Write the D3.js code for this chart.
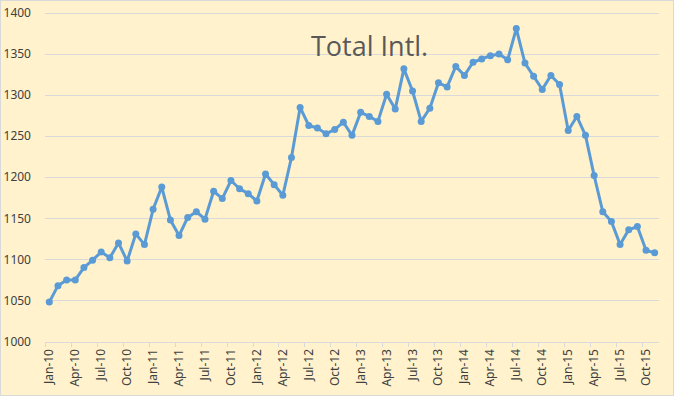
<!DOCTYPE html>
<html>
<head>
<meta charset="utf-8">
<script src="https://cdn.jsdelivr.net/npm/d3@7"></script>
<style>
  body { margin: 0; background: #fff; }
  svg { display: block; }
</style>
</head>
<body>
<div id="chart"></div>
<script>
// month labels, Jan-10 .. Nov-15
var years = ["10", "11", "12", "13", "14", "15"];
var monthNames = ["Jan", "Feb", "Mar", "Apr", "May", "Jun", "Jul", "Aug", "Sep", "Oct", "Nov", "Dec"];
var months = [];
years.forEach(function(yr) {
    monthNames.forEach(function(m) { months.push(m + "-" + yr); });
});
months = months.slice(0, 71);

// Total Intl. values
var totalIntl = [
    1048, 1068, 1075, 1075, 1090, 1099, 1109, 1102, 1120, 1098, 1131, 1118,
    1161, 1188, 1148, 1129, 1151, 1158, 1149, 1183, 1174, 1196, 1186, 1180,
    1171, 1204, 1191, 1178, 1224, 1285, 1263, 1260, 1253, 1258, 1267, 1251,
    1279, 1274, 1268, 1301, 1283, 1332, 1305, 1268, 1284, 1315, 1310, 1335,
    1324, 1340, 1344, 1348, 1350, 1343, 1381, 1339, 1323, 1307, 1324, 1313,
    1257, 1274, 1251, 1202, 1158, 1146, 1118, 1136, 1140, 1111, 1108
];

var yTicks = [1000, 1050, 1100, 1150, 1200, 1250, 1300, 1350, 1400];

var width = 674, height = 396;

var svg = d3.select("#chart")
    .append("svg")
    .attr("width", width)
    .attr("height", height);

// chart background + frame
svg.append("rect")
    .attr("x", 0.5)
    .attr("y", 0.5)
    .attr("width", width - 1)
    .attr("height", height - 1)
    .attr("fill", "#FFF2CC")
    .attr("stroke", "#D9D9D9");

var xScale = d3.scaleBand()
    .domain(months)
    .range([45, 659])
    .padding(0);

var yScale = d3.scaleLinear()
    .domain([1000, 1400])
    .range([341.5, 13]);

// gridlines
svg.append("g")
    .selectAll("line")
    .data(yTicks.slice(1))
    .enter()
    .append("line")
    .attr("x1", 45)
    .attr("x2", 659)
    .attr("y1", function(d) { return Math.round(yScale(d)) + 0.5; })
    .attr("y2", function(d) { return Math.round(yScale(d)) + 0.5; })
    .attr("stroke", "#D9D9D9")
    .attr("stroke-width", 1);

// y labels
svg.append("g")
    .selectAll("text")
    .data(yTicks)
    .enter()
    .append("text")
    .attr("x", 31)
    .attr("y", function(d) { return yScale(d); })
    .attr("dy", "0.35em")
    .attr("text-anchor", "end")
    .attr("font-family", "Noto Sans, sans-serif")
    .attr("font-size", "12px")
    .attr("fill", "#404040")
    .text(function(d) { return d; });

// x axis line
svg.append("line")
    .attr("x1", 45)
    .attr("x2", 659)
    .attr("y1", Math.round(yScale(1000)) + 0.5)
    .attr("y2", Math.round(yScale(1000)) + 0.5)
    .attr("stroke", "#D9D9D9");

var labelled = months.filter(function(d, i) { return i % 3 == 0; });

// tick marks between categories
svg.append("g")
    .selectAll("line")
    .data(labelled)
    .enter()
    .append("line")
    .attr("x1", function(d) { return Math.round(xScale(d)) + 0.5; })
    .attr("x2", function(d) { return Math.round(xScale(d)) + 0.5; })
    .attr("y1", 342)
    .attr("y2", 347)
    .attr("stroke", "#D9D9D9");

// x labels, rotated
svg.append("g")
    .selectAll("text")
    .data(labelled)
    .enter()
    .append("text")
    .attr("transform", function(d) {
        var cx = xScale(d) + xScale.bandwidth() / 2;
        return "translate(" + (cx + 4) + ",349) rotate(-90)";
    })
    .attr("text-anchor", "end")
    .attr("font-family", "Noto Sans, sans-serif")
    .attr("font-size", "12px")
    .attr("fill", "#404040")
    .text(function(d) { return d; });

// the line
var line = d3.line()
    .x(function(d, i) { return xScale(months[i]) + xScale.bandwidth() / 2; })
    .y(function(d) { return yScale(d); });

svg.append("path")
    .datum(totalIntl)
    .attr("d", line)
    .attr("fill", "none")
    .attr("stroke", "#5B9BD5")
    .attr("stroke-width", 3)
    .attr("stroke-linejoin", "round");

svg.append("g")
    .selectAll("circle")
    .data(totalIntl)
    .enter()
    .append("circle")
    .attr("cx", function(d, i) { return xScale(months[i]) + xScale.bandwidth() / 2; })
    .attr("cy", function(d) { return yScale(d); })
    .attr("r", 3.5)
    .attr("fill", "#5B9BD5");

// title inside the plot
svg.append("text")
    .attr("x", 311)
    .attr("y", 56)
    .attr("font-family", "Open Sans, sans-serif")
    .attr("font-size", "27px")
    .attr("fill", "#595959")
    .text("Total Intl.");
</script>
</body>
</html>
